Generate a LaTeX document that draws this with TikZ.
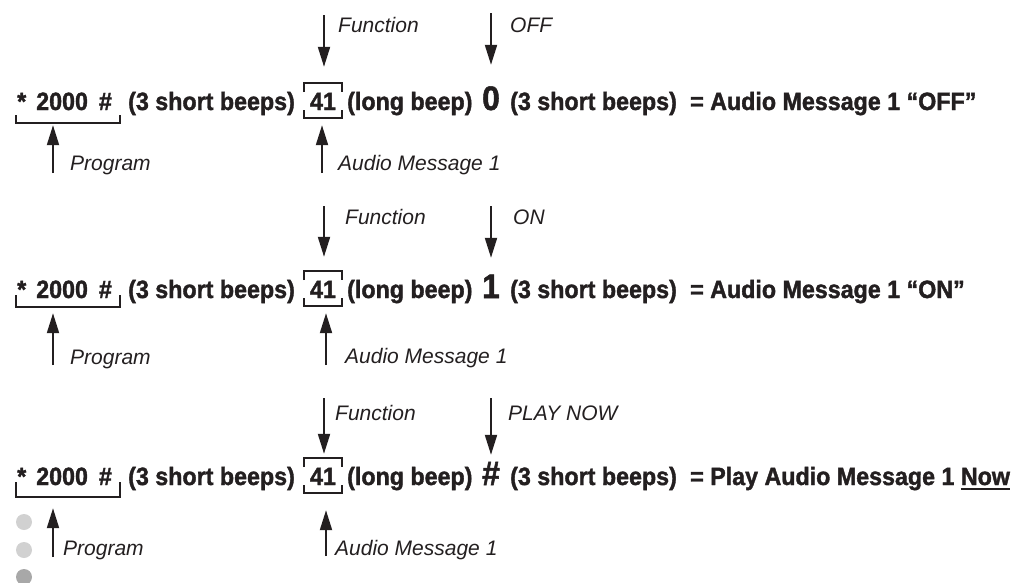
\documentclass[tikz,border=0pt]{standalone}
\usepackage{fontspec}
\setmainfont{Liberation Sans}
\newfontfamily\keyfont[FakeStretch=0.93, BoldFeatures={FakeBold=1.5}]{Liberation Sans}
\newcommand\ulword[1]{\vtop{\hbox{#1}\kern2.5pt\hrule height 1.8pt}}
\usetikzlibrary{arrows.meta}

\definecolor{dotlight}{gray}{0.82}
\definecolor{dotdark}{gray}{0.66}
\definecolor{ink}{HTML}{231F20}

\tikzset{
  seq/.style={anchor=base west, inner sep=0pt, text=ink, font=\keyfont\bfseries\fontsize{25}{30}\selectfont},
  code/.style={seq, anchor=base, minimum width=38pt, text height=18pt, text depth=0pt},
  keys/.style={seq, text height=18pt, text depth=0pt},
  big/.style={anchor=base, inner sep=0pt, text=ink, text height=24pt, text depth=0pt, font=\keyfont\bfseries\fontsize{34}{40}\selectfont},
  note/.style={anchor=west, inner sep=0pt, text=ink, font=\itshape\fontsize{21}{25}\selectfont},
  pointer/.style={draw=ink, line width=2pt, -{Triangle[length=20pt,width=12pt]}},
  frame/.style={draw=ink, line width=2pt},
}

\begin{document}
\begin{tikzpicture}[x=1pt, y=-1pt]
  \useasboundingbox (0,0) rectangle (1033,582);

  % ================= Row 1: message 1 OFF =================
  \node[keys] (k1) at (17,110) {*\hspace{10pt}2000\hspace{11pt}\#};
  \node[seq] (b1) at (128,110) {(3 short beeps)};
  \node[code] (c1) at (323,110) {41};
  \node[seq] (l1) at (347,110) {(long beep)};
  \node[big] (v1) at (491,110) {0};
  \node[seq] (s1) at (510,110) {(3 short beeps)};
  \node[seq] (r1) at (690,110) {= Audio Message 1 “OFF”};

  \draw[frame] (16,115) |- (120,123) -- (120,115);
  \draw[frame] ([shift={(0,-18)}]c1.base west) |- ([shift={(0,-27)}]c1.base east) -- ([shift={(0,-18)}]c1.base east);
  \draw[frame] (c1.base west) |- ([shift={(0,8)}]c1.base east) -- (c1.base east);

  \coordinate (f1) at (324,15);
  \coordinate (o1) at (491,13);
  \coordinate (p1) at (53,173);
  \coordinate (a1) at (322,173);
  \draw[pointer, shorten >=25pt] (f1) -- (f1 |- c1.north);
  \draw[pointer, shorten >=21pt] (o1) -- (o1 |- v1.north);
  \draw[pointer, shorten >=15pt] (p1) -- (p1 |- k1.south);
  \draw[pointer, shorten >=15pt] (a1) -- (a1 |- c1.south);
  \node[note] (tf1) at (338,25) {Function};
  \node[note] (to1) at (510,25) {OFF};
  \node[note] (tp1) at (70,165) {Program};
  \node[note] (ta1) at (338,165) {Audio Message 1};

  % ================= Row 2: message 1 ON =================
  \node[keys] (k2) at (17,298) {*\hspace{10pt}2000\hspace{11pt}\#};
  \node[seq] (b2) at (128,298) {(3 short beeps)};
  \node[code] (c2) at (323,298) {41};
  \node[seq] (l2) at (347,298) {(long beep)};
  \node[big] (v2) at (491,298) {1};
  \node[seq] (s2) at (510,298) {(3 short beeps)};
  \node[seq] (r2) at (690,298) {= Audio Message 1 “ON”};

  \draw[frame] (16,295) |- (120,307) -- (120,295);
  \draw[frame] ([shift={(0,-18)}]c2.base west) |- ([shift={(0,-27)}]c2.base east) -- ([shift={(0,-18)}]c2.base east);
  \draw[frame] (c2.base west) |- ([shift={(0,8)}]c2.base east) -- (c2.base east);

  \coordinate (f2) at (324,206);
  \coordinate (o2) at (491,206);
  \coordinate (p2) at (53,365);
  \coordinate (a2) at (326,365);
  \draw[pointer, shorten >=23pt] (f2) -- (f2 |- c2.north);
  \draw[pointer, shorten >=16pt] (o2) -- (o2 |- v2.north);
  \draw[pointer, shorten >=15pt] (p2) -- (p2 |- k2.south);
  \draw[pointer, shorten >=15pt] (a2) -- (a2 |- c2.south);
  \node[note] (tf2) at (345,217) {Function};
  \node[note] (to2) at (513,217) {ON};
  \node[note] (tp2) at (70,359) {Program};
  \node[note] (ta2) at (345,358) {Audio Message 1};

  % ================= Row 3: play message 1 now =================
  \node[keys] (k3) at (17,485) {*\hspace{10pt}2000\hspace{11pt}\#};
  \node[seq] (b3) at (128,485) {(3 short beeps)};
  \node[code] (c3) at (323,485) {41};
  \node[seq] (l3) at (347,485) {(long beep)};
  \node[big] (v3) at (491,485) {\#};
  \node[seq] (s3) at (510,485) {(3 short beeps)};
  \node[seq] (r3) at (690,485) {= Play Audio Message 1 \ulword{Now}};

  \draw[frame] (16,482) |- (120,497) -- (120,482);
  \draw[frame] ([shift={(0,-18)}]c3.base west) |- ([shift={(0,-27)}]c3.base east) -- ([shift={(0,-18)}]c3.base east);
  \draw[frame] (c3.base west) |- ([shift={(0,8)}]c3.base east) -- (c3.base east);

  \coordinate (f3) at (324,398);
  \coordinate (o3) at (491,398);
  \coordinate (p3) at (53,557);
  \coordinate (a3) at (326,556);
  \draw[pointer, shorten >=13pt] (f3) -- (f3 |- c3.north);
  \draw[pointer, shorten >=6pt] (o3) -- (o3 |- v3.north);
  \draw[pointer, shorten >=23pt] (p3) -- (p3 |- k3.south);
  \draw[pointer, shorten >=25pt] (a3) -- (a3 |- c3.south);
  \node[note] (tf3) at (335,413) {Function};
  \node[note] (to3) at (508,413) {PLAY NOW};
  \node[note] (tp3) at (63,550) {Program};
  \node[note] (ta3) at (335,550) {Audio Message 1};

  % bullets at left margin
  \fill[dotlight] (24,522) circle (8pt);
  \fill[dotlight] (24,550) circle (8pt);
  \fill[dotdark] (24,577) circle (8pt);
\end{tikzpicture}
\end{document}
